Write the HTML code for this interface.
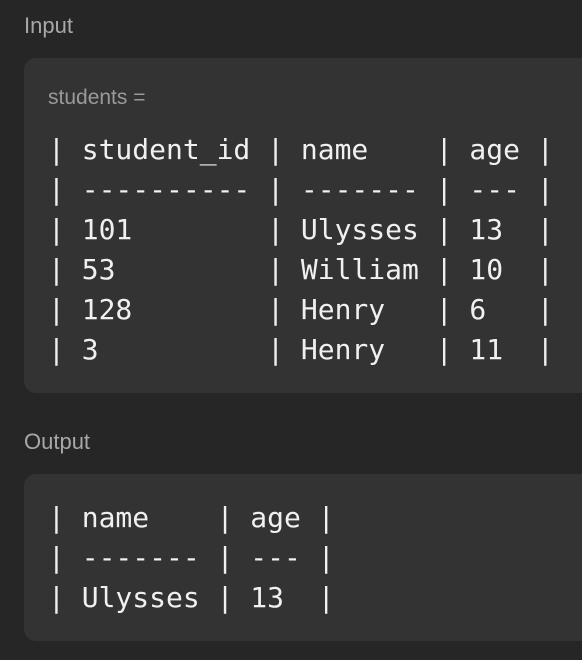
<!DOCTYPE html>
<html><head><style>
body{margin:0;width:582px;height:660px;background:#262626;overflow:hidden;position:relative;font-family:"Liberation Sans",sans-serif}
.lbl{position:absolute;left:24px;color:#a8a8a8;font-size:22px}
.box{position:absolute;left:24px;width:580px;background:#333333;border-radius:12px}
pre{position:absolute;left:48px;margin:0;font-family:"DejaVu Sans Mono","Liberation Mono",monospace;font-size:28px;line-height:40px;color:#f0f0f0}
.var{position:absolute;left:48px;top:86px;color:#9a9a9a;font-size:21px}
</style></head><body>
<div class="lbl" style="top:13px">Input</div>
<div class="box" style="top:58px;height:335px"></div>
<div class="var">students =</div>
<pre style="top:130px">| student_id | name    | age |
| ---------- | ------- | --- |
| 101        | Ulysses | 13  |
| 53         | William | 10  |
| 128        | Henry   | 6   |
| 3          | Henry   | 11  |</pre>
<div class="lbl" style="top:429px">Output</div>
<div class="box" style="top:474px;height:167px"></div>
<pre style="top:498px">| name    | age |
| ------- | --- |
| Ulysses | 13  |</pre>
</body></html>
